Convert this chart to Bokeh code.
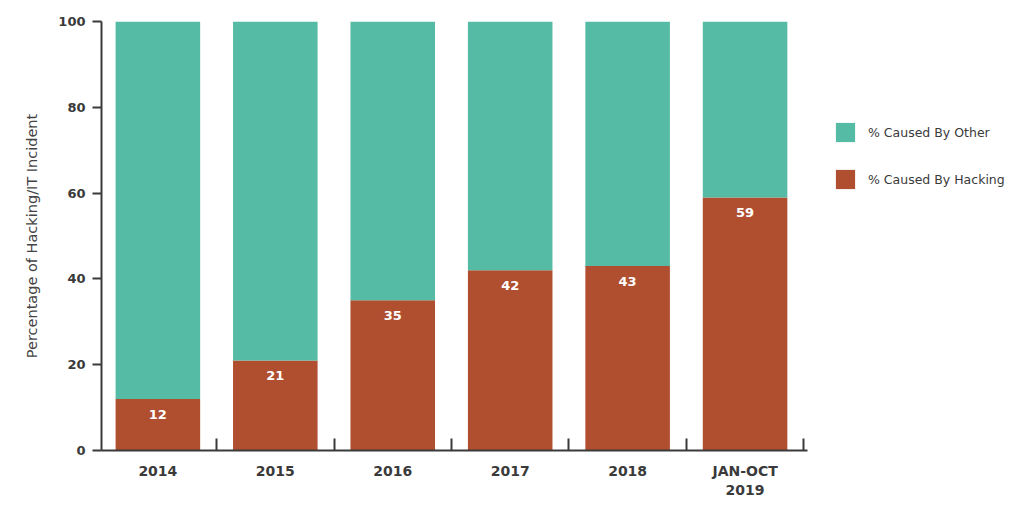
from bokeh.plotting import figure
from bokeh.models import ColumnDataSource, FixedTicker, Legend, LegendItem, Range1d, LabelSet
from bokeh.core.properties import value
from bokeh.embed import file_html
from bokeh.resources import INLINE

periods = ["2014", "2015", "2016", "2017", "2018", "JAN-OCT\n2019"]
hacking = [12, 21, 35, 42, 43, 59]
other = [88, 79, 65, 58, 57, 41]
y_ticks = [0, 20, 40, 60, 80, 100]

TEAL = "#55BBA5"
BROWN = "#B04E30"
DARK = "#3a3a3a"
FONT = "DejaVu Sans"

xs = [i + 0.5 for i in range(len(periods))]
bounds = [i + 1 for i in range(len(periods))]

src = ColumnDataSource(dict(x=xs, hacking=hacking, other=other,
                            label=[str(h) for h in hacking]))

FRAME_W = 1020 - 101 - 5
PX_PER_UNIT = 117.44
x_start = 0.02

p = figure(width=1020, height=510, output_backend="svg", toolbar_location=None,
           x_range=Range1d(x_start, x_start + FRAME_W / PX_PER_UNIT), y_range=Range1d(0, 100),
           min_border_left=101, min_border_right=5, min_border_top=21, min_border_bottom=60)
p.outline_line_color = None
p.xgrid.grid_line_color = None
p.ygrid.grid_line_color = None

rs = p.vbar_stack(["hacking", "other"], x="x", width=0.72, color=[BROWN, TEAL],
                  line_color=None, source=src)

labels = LabelSet(x="x", y="hacking", text="label", source=src, y_offset=-11,
                  text_align="center", text_baseline="top", text_color="white",
                  text_font=value(FONT), text_font_style="bold", text_font_size="13px")
p.add_layout(labels)

# x axis
xa = p.xaxis[0]
xa.ticker = FixedTicker(ticks=xs, minor_ticks=bounds)
xa.bounds = (x_start, 6.03)
xa.major_label_overrides = {x: lab for x, lab in zip(xs, periods)}
xa.major_tick_in = 0
xa.major_tick_out = 0
xa.minor_tick_in = 12
xa.minor_tick_out = 0
xa.minor_tick_line_color = DARK
xa.minor_tick_line_width = 2
xa.axis_line_color = DARK
xa.axis_line_width = 2
xa.major_label_text_font = FONT
xa.major_label_text_font_style = "bold"
xa.major_label_text_font_size = "14px"
xa.major_label_text_color = DARK
xa.major_label_text_line_height = 1.2
xa.major_label_standoff = 12

# y axis
ya = p.yaxis[0]
ya.ticker = FixedTicker(ticks=y_ticks)
ya.minor_tick_line_color = None
ya.major_tick_in = 0
ya.major_tick_out = 9
ya.major_tick_line_color = DARK
ya.major_tick_line_width = 2
ya.axis_line_color = DARK
ya.axis_line_width = 2
ya.major_label_text_font = FONT
ya.major_label_text_font_style = "bold"
ya.major_label_text_font_size = "13px"
ya.major_label_text_color = DARK
ya.major_label_standoff = 7
ya.axis_label = "Percentage of Hacking/IT Incident"
ya.axis_label_text_font = FONT
ya.axis_label_text_font_style = "normal"
ya.axis_label_text_font_size = "14.5px"
ya.axis_label_text_color = "#444444"
ya.axis_label_standoff = 15

legend = Legend(items=[LegendItem(label="% Caused By Other", renderers=[rs[1]]),
                       LegendItem(label="% Caused By Hacking", renderers=[rs[0]])],
                location=(732, 259), orientation="vertical",
                glyph_width=24, glyph_height=24, label_standoff=11, spacing=23,
                padding=0, margin=0, border_line_color=None, background_fill_alpha=0,
                label_text_font=FONT, label_text_font_style="normal",
                label_text_font_size="12.5px", label_text_color="#3a3a3a")
p.add_layout(legend, "center")

open("out.html", "w").write(file_html(p, INLINE))
